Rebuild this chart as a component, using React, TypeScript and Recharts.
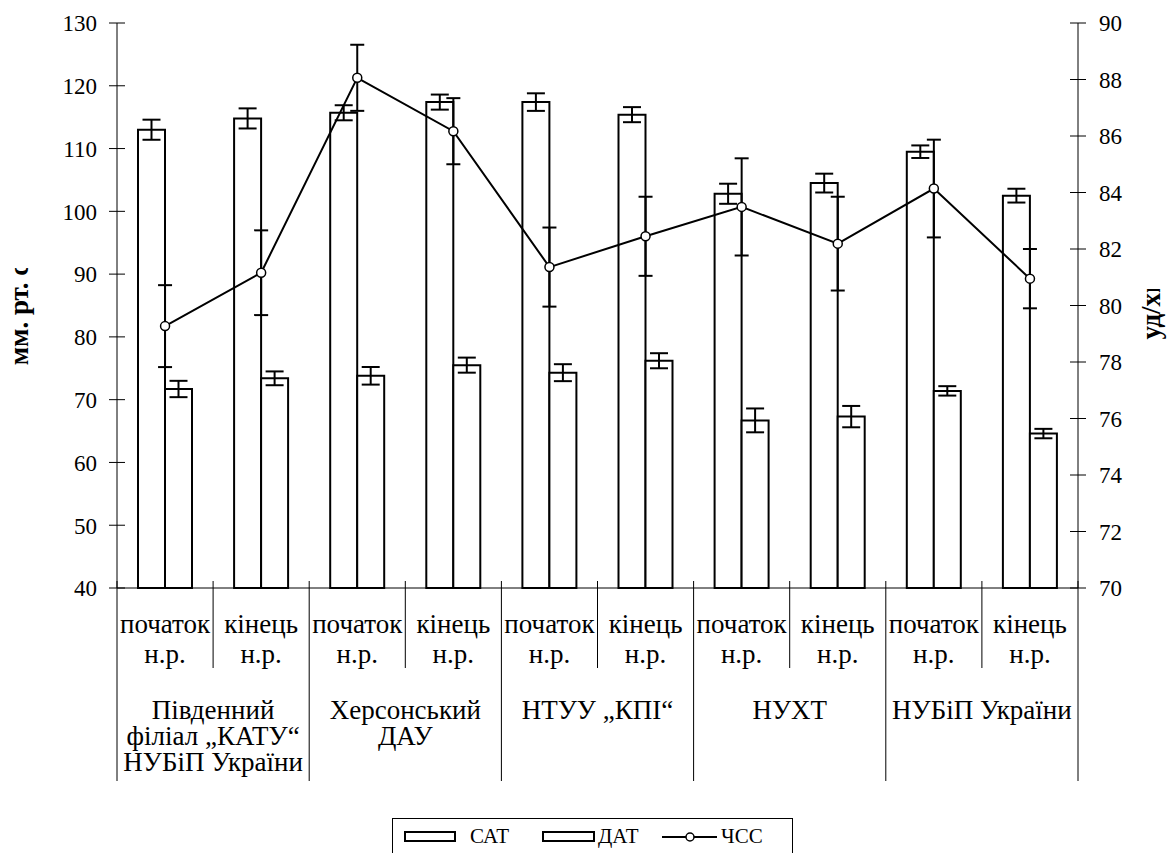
import React from 'react';
import { ComposedChart, Bar, Line, XAxis, YAxis, ErrorBar, Legend } from 'recharts';

// Measurement period for each column
const periods = [
  'початок н.р.', 'кінець н.р.',
  'початок н.р.', 'кінець н.р.',
  'початок н.р.', 'кінець н.р.',
  'початок н.р.', 'кінець н.р.',
  'початок н.р.', 'кінець н.р.',
];

// Universities, one per pair of columns (each entry holds its text lines)
const universities = [
  ['Південний', 'філіал „КАТУ“', 'НУБіП України'],
  ['Херсонський', 'ДАУ'],
  ['НТУУ „КПІ“'],
  ['НУХТ'],
  ['НУБіП України'],
];

// Systolic pressure, mm Hg (mean and error)
const sat = [113.0, 114.8, 115.7, 117.4, 117.4, 115.4, 102.8, 104.5, 109.5, 102.5];
const satErr = [1.6, 1.6, 1.2, 1.2, 1.4, 1.2, 1.6, 1.5, 1.0, 1.1];

// Diastolic pressure, mm Hg (mean and error)
const dat = [71.7, 73.4, 73.8, 75.5, 74.3, 76.2, 66.7, 67.3, 71.4, 64.6];
const datErr = [1.3, 1.1, 1.4, 1.2, 1.35, 1.2, 1.9, 1.7, 0.75, 0.75];

// Heart rate, beats/min (mean and error)
const hr = [79.27, 81.16, 88.06, 86.17, 81.36, 82.45, 83.49, 82.19, 84.14, 80.95];
const hrErr = [1.45, 1.5, 1.17, 1.17, 1.4, 1.4, 1.72, 1.66, 1.73, 1.05];

const pressureTicks = [40, 50, 60, 70, 80, 90, 100, 110, 120, 130];
const rateTicks = [70, 72, 74, 76, 78, 80, 82, 84, 86, 88, 90];

const data = periods.map((period, i) => ({
  period,
  sat: sat[i],
  satErr: satErr[i],
  dat: dat[i],
  datErr: datErr[i],
  hr: hr[i],
  hrErr: hrErr[i],
}));

const FONT = '"Liberation Serif", "Times New Roman", serif';
const CHART_W = 1160;
const CHART_H = 845;
const LEFT_W = 109;
const RIGHT_W = 90;
const BAND = (CHART_W - LEFT_W - RIGHT_W) / periods.length;

const serif = (size: number, extra: React.CSSProperties = {}): React.CSSProperties => ({
  fontFamily: FONT,
  fontSize: size,
  ...extra,
});

function PressureTick(props: any) {
  const { x, y, payload } = props;
  return (
    <g>
      <line x1={x - 8} x2={x + 8} y1={y} y2={y} stroke="#000" strokeWidth={1} />
      <text x={x - 20} y={y} dy="0.36em" textAnchor="end" style={serif(23)} fill="#000">
        {payload.value}
      </text>
    </g>
  );
}

function RateTick(props: any) {
  const { x, y, payload } = props;
  return (
    <g>
      <line x1={x - 8} x2={x + 8} y1={y} y2={y} stroke="#000" strokeWidth={1} />
      <text x={x + 21} y={y} dy="0.36em" textAnchor="start" style={serif(23)} fill="#000">
        {payload.value}
      </text>
    </g>
  );
}

// Two-level category tick: period text, separators and the university name
function PeriodTick(props: any) {
  const { x, y, index, payload } = props;
  const [word, abbr] = String(payload.value).split(' ');
  const left = x - BAND / 2;
  const groupStart = index % 2 === 0;
  const isLast = index === periods.length - 1;
  const uni = groupStart ? universities[index / 2] : null;
  return (
    <g>
      <line x1={left} x2={left} y1={y - 7} y2={y + (groupStart ? 193 : 80)} stroke="#000" strokeWidth={1} />
      {isLast && (
        <line x1={x + BAND / 2} x2={x + BAND / 2} y1={y - 7} y2={y + 193} stroke="#000" strokeWidth={1} />
      )}
      <text x={x} y={y + 45} textAnchor="middle" style={serif(27)} fill="#000">
        {word}
      </text>
      <text x={x} y={y + 75} textAnchor="middle" style={serif(27)} fill="#000">
        {abbr}
      </text>
      {uni &&
        uni.map((line, k) => (
          <text key={k} x={x + BAND / 2} y={y + 131 + 26 * k} textAnchor="middle" style={serif(27)} fill="#000">
            {line}
          </text>
        ))}
    </g>
  );
}

function AxisTitle(props: any) {
  const { viewBox, value, clipTop, xPos, id } = props;
  const cy = viewBox.y + viewBox.height / 2;
  return (
    <g>
      <defs>
        <clipPath id={id}>
          <rect x={xPos - 40} y={clipTop} width={80} height={400} />
        </clipPath>
      </defs>
      <g clipPath={`url(#${id})`}>
        <text
          x={xPos}
          y={cy}
          transform={`rotate(-90 ${xPos} ${cy})`}
          textAnchor="middle"
          style={serif(27, { fontWeight: 'bold' })}
          fill="#000"
        >
          {value}
        </text>
      </g>
    </g>
  );
}

function LegendBox() {
  return (
    <svg width={401} height={36} style={{ display: 'block' }}>
      <rect x={0.5} y={0.5} width={400} height={35} fill="#fff" stroke="#000" strokeWidth={1} />
      <rect x={13} y={14} width={50} height={9} fill="#fff" stroke="#000" strokeWidth={2} />
      <text x={78} y={25} style={serif(21)} fill="#000">САТ</text>
      <rect x={151} y={14} width={51} height={9} fill="#fff" stroke="#000" strokeWidth={2} />
      <text x={206} y={25} style={serif(21)} fill="#000">ДАТ</text>
      <line x1={270} x2={325} y1={19} y2={19} stroke="#000" strokeWidth={2} />
      <circle cx={298} cy={19} r={4} fill="#fff" stroke="#000" strokeWidth={1.5} />
      <text x={329} y={25} style={serif(21)} fill="#000">ЧСС</text>
    </svg>
  );
}

export default function App() {
  return (
    <div style={{ width: CHART_W, height: CHART_H, fontFamily: FONT }}>
      <ComposedChart
        width={CHART_W}
        height={CHART_H}
        data={data}
        margin={{ top: 15, right: 0, bottom: 0, left: 0 }}
        barCategoryGap={21}
        barGap={0}
      >
        <XAxis
          dataKey="period"
          height={265}
          interval={0}
          tickSize={0}
          tickMargin={0}
          tickLine={false}
          axisLine={{ stroke: '#000', strokeWidth: 1 }}
          tick={<PeriodTick />}
        />
        <YAxis
          yAxisId="left"
          orientation="left"
          width={LEFT_W}
          domain={[40, 130]}
          ticks={pressureTicks}
          interval={0}
          tickSize={0}
          tickMargin={0}
          tickLine={false}
          axisLine={{ stroke: '#000', strokeWidth: 1 }}
          tick={<PressureTick />}
          label={<AxisTitle value="мм. рт. ст." xPos={19.5} clipTop={260} id="clip-left-title" />}
        />
        <YAxis
          yAxisId="right"
          orientation="right"
          width={RIGHT_W}
          domain={[70, 90]}
          ticks={rateTicks}
          interval={0}
          tickSize={0}
          tickMargin={0}
          tickLine={false}
          axisLine={{ stroke: '#000', strokeWidth: 1 }}
          tick={<RateTick />}
          label={<AxisTitle value="уд/хв." xPos={1152} clipTop={281} id="clip-right-title" />}
        />
        <Bar yAxisId="left" dataKey="sat" name="САТ" fill="#fff" stroke="#000" strokeWidth={2} isAnimationActive={false}>
          <ErrorBar dataKey="satErr" width={9} stroke="#000" strokeWidth={2} direction="y" />
        </Bar>
        <Bar yAxisId="left" dataKey="dat" name="ДАТ" fill="#fff" stroke="#000" strokeWidth={2} isAnimationActive={false}>
          <ErrorBar dataKey="datErr" width={9} stroke="#000" strokeWidth={2} direction="y" />
        </Bar>
        <Line
          yAxisId="right"
          dataKey="hr"
          name="ЧСС"
          type="linear"
          stroke="#000"
          strokeWidth={2}
          dot={{ r: 4.5, fill: '#fff', stroke: '#000', strokeWidth: 1.5 }}
          isAnimationActive={false}
        >
          <ErrorBar dataKey="hrErr" width={7} stroke="#000" strokeWidth={2} direction="y" />
        </Line>
        <Legend
          content={() => <LegendBox />}
          wrapperStyle={{ position: 'absolute', left: 384, top: 810, width: 401, height: 0, bottom: 'auto', right: 'auto' }}
        />
      </ComposedChart>
    </div>
  );
}
